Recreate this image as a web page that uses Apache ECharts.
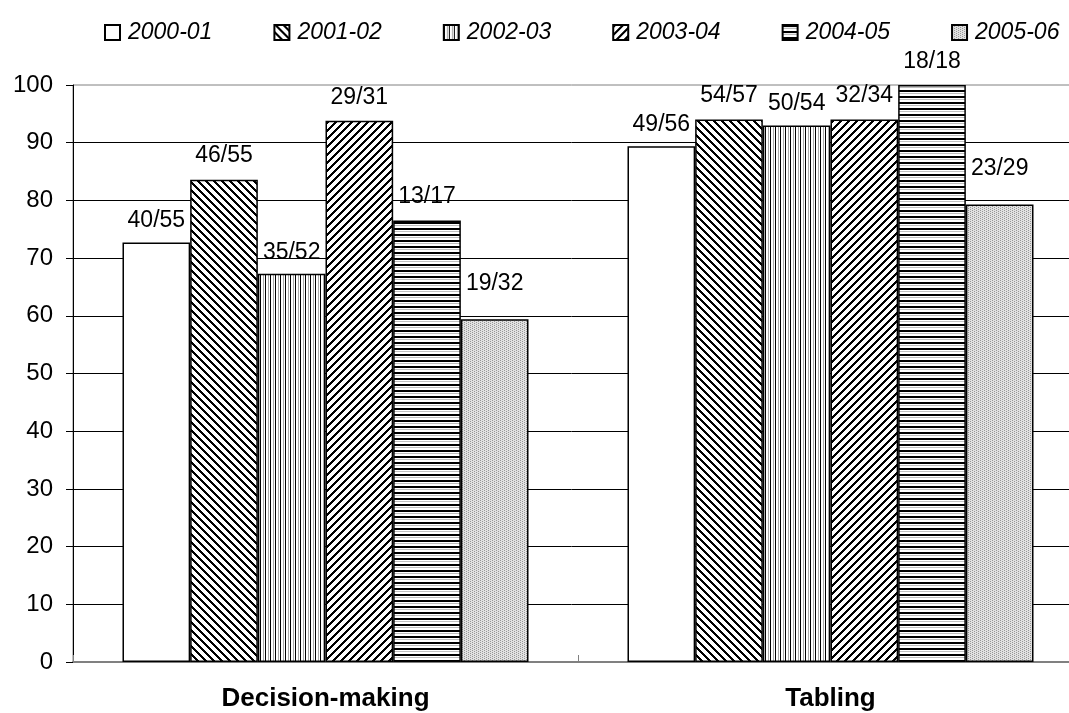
<!DOCTYPE html>
<html>
<head>
<meta charset="utf-8">
<script src="https://cdn.jsdelivr.net/npm/echarts@6/dist/echarts.min.js"></script>
<style>
html,body{margin:0;padding:0;background:#fff;}
#chart{width:1069px;height:713px;}
</style>
</head>
<body>
<div id="chart"></div>
<script>
const categories = ['Decision-making', 'Tabling'];
const seasons = ['2000-01', '2001-02', '2002-03', '2003-04', '2004-05', '2005-06'];
const yTicks = [0, 10, 20, 30, 40, 50, 60, 70, 80, 90, 100];

const s2000_01 = [72.7, 89.4];
const s2001_02 = [83.6, 94.0];
const s2002_03 = [67.3, 93.0];
const s2003_04 = [93.8, 94.0];
const s2004_05 = [76.5, 100];
const s2005_06 = [59.4, 79.3];

const l2000_01 = ['40/55', '49/56'];
const l2001_02 = ['46/55', '54/57'];
const l2002_03 = ['35/52', '50/54'];
const l2003_04 = ['29/31', '32/34'];
const l2004_05 = ['13/17', '18/18'];
const l2005_06 = ['19/32', '23/29'];

const values = [s2000_01, s2001_02, s2002_03, s2003_04, s2004_05, s2005_06];
const labels = [l2000_01, l2001_02, l2002_03, l2003_04, l2004_05, l2005_06];

function tile(w, h, fn) {
  const c = document.createElement('canvas');
  c.width = w; c.height = h;
  const ctx = c.getContext('2d');
  const img = ctx.createImageData(w, h);
  for (let y = 0; y < h; y++) {
    for (let x = 0; x < w; x++) {
      const v = fn(x, y);
      const i = (y * w + x) * 4;
      img.data[i] = v; img.data[i + 1] = v; img.data[i + 2] = v; img.data[i + 3] = 255;
    }
  }
  ctx.putImageData(img, 0, 0);
  return { image: c, repeat: 'repeat' };
}

const patterns = [
  '#ffffff',
  tile(8, 8, (x, y) => (((x - y) % 8 + 8) % 8) < 3 ? 0 : 255),
  tile(5, 5, (x, y) => x === 0 ? 0 : (x === 3 ? 170 : 255)),
  tile(8, 8, (x, y) => ((x + y) % 8) < 3 ? 0 : 255),
  tile(6, 6, (x, y) => (y < 2 ? 0 : (y === 3 ? 190 : 255))),
  tile(4, 4, (x, y) => ((x === 0 && y % 2 === 0) || (x === 2 && y % 2 === 1)) ? 150 : 225)
];

const labelDist = [10, 12, 10, 12, 12, 24];

const series = seasons.map((name, k) => ({
  name: name,
  type: 'bar',
  data: values[k],
  barGap: '0%',
  barCategoryGap: '19.6%',
  itemStyle: { color: patterns[k], borderColor: '#000', borderWidth: 1.5 },
  label: {
    show: true,
    position: 'top',
    distance: labelDist[k],
    color: '#000',
    fontSize: 23,
    fontFamily: 'Liberation Sans, Arial, sans-serif',
    formatter: p => labels[k][p.dataIndex]
  }
}));

const chart = echarts.init(document.getElementById('chart'), null, { renderer: 'canvas' });
chart.setOption({
  animation: false,
  backgroundColor: '#fff',
  textStyle: { fontFamily: 'Liberation Sans, Arial, sans-serif' },
  legend: {
    data: seasons,
    left: 99,
    top: 16,
    icon: 'rect',
    itemWidth: 15,
    itemHeight: 15,
    itemGap: 61,
    textStyle: { fontSize: 23, fontStyle: 'italic', color: '#000', padding: [0, 0, 0, 3] }
  },
  grid: { left: 73, width: 1010, top: 85, bottom: 51, containLabel: false, outerBoundsMode: 'none',
    show: true, borderColor: '#808080', borderWidth: 1 },
  xAxis: {
    type: 'category',
    data: categories,
    axisLine: { lineStyle: { color: '#808080', width: 2 } },
    axisTick: { show: true, inside: true, length: 7, lineStyle: { color: '#808080', width: 1 } },
    axisLabel: { fontSize: 26, fontWeight: 'bold', color: '#000', margin: 24 },
    splitLine: { show: false }
  },
  yAxis: {
    type: 'value',
    min: 0,
    max: 100,
    interval: 10,
    axisLine: { show: true, lineStyle: { color: '#000', width: 1 } },
    axisTick: { show: true, length: 7, lineStyle: { color: '#000' } },
    axisLabel: { fontSize: 24, color: '#000', margin: 20,
      formatter: v => yTicks.includes(v) ? String(v) : '' },
    splitLine: { show: true, showMaxLine: false, lineStyle: { color: '#000', width: 1 } }
  },
  series: series
});
</script>
</body>
</html>
